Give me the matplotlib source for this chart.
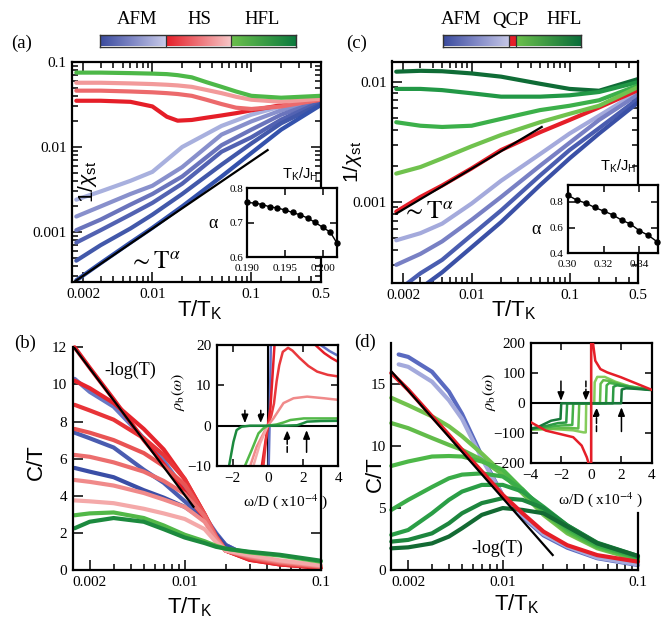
import numpy as np
import matplotlib
matplotlib.use("Agg")
import matplotlib.pyplot as plt
from matplotlib.colors import LinearSegmentedColormap
from matplotlib.ticker import LogLocator, NullFormatter

plt.rcParams['font.family'] = ['Liberation Serif', 'DejaVu Serif']
plt.rcParams['mathtext.fontset'] = 'custom'
plt.rcParams['mathtext.rm'] = 'Liberation Sans'
plt.rcParams['mathtext.it'] = 'Liberation Sans:italic'
plt.rcParams['mathtext.bf'] = 'Liberation Sans:bold'

nan = np.nan

# ---------------- (a) 1/chi_st, HS side ----------------
a_T = [0.0017, 0.003, 0.006, 0.01, 0.02, 0.05, 0.1, 0.2, 0.5]
a_blue = [
    [0.0024, 0.0030, 0.0040, 0.0051, 0.0100, 0.0177, 0.024, 0.030, 0.038],
    [0.00152, 0.0020, 0.0028, 0.0035, 0.0058, 0.0140, 0.020, 0.027, 0.036],
    [0.00105, 0.0014, 0.0021, 0.0028, 0.0045, 0.0105, 0.016, 0.024, 0.035],
    [0.00075, 0.00105, 0.0016, 0.0022, 0.0037, 0.0088, 0.013, 0.021, 0.034],
    [0.00046, 0.00070, 0.0011, 0.0016, 0.0028, 0.0062, 0.011, 0.019, 0.032],
    [0.00027, 0.00043, 0.00075, 0.00112, 0.0020, 0.0045, 0.0085, 0.016, 0.031],
]
a_T_top = [0.0017, 0.003, 0.006, 0.01, 0.014, 0.018, 0.025, 0.035, 0.05, 0.07, 0.1, 0.2, 0.5]
a_top = [
    [0.035, 0.035, 0.034, 0.030, 0.0227, 0.0204, 0.0208, 0.0221, 0.0235, 0.025, 0.027, 0.031, 0.036],
    [0.046, 0.046, 0.045, 0.044, 0.043, 0.042, 0.040, 0.036, 0.032, 0.029, 0.028, 0.030, 0.036],
    [0.057, 0.057, 0.056, 0.055, 0.054, 0.053, 0.051, 0.047, 0.043, 0.039, 0.036, 0.034, 0.037],
    [0.075, 0.075, 0.074, 0.073, 0.072, 0.070, 0.066, 0.058, 0.051, 0.045, 0.040, 0.038, 0.040],
]
a_fit_T = [0.00163, 0.146]
a_fit_v = [0.00026, 0.0092]
a_ratio = [0.190, 0.191, 0.192, 0.193, 0.194, 0.195, 0.196, 0.197, 0.198, 0.199, 0.200, 0.201, 0.2019]
a_alpha = [0.759, 0.757, 0.753, 0.746, 0.743, 0.737, 0.730, 0.723, 0.714, 0.701, 0.687, 0.673, 0.641]

# ---------------- (c) 1/chi_st, QCP side ----------------
c_T = [0.0017, 0.003, 0.005, 0.01, 0.02, 0.05, 0.1, 0.2, 0.5]
c_green = [
    [0.0121, 0.0123, 0.0122, 0.0117, 0.0110, 0.0096, 0.0087, 0.0084, 0.0105],
    [0.0087, 0.0087, 0.0085, 0.0080, 0.0075, 0.0075, 0.0077, 0.0082, 0.0099],
    [0.0046, 0.0043, 0.0042, 0.0043, 0.0049, 0.0058, 0.0063, 0.0070, 0.0093],
    [0.00172, 0.00195, 0.0023, 0.0029, 0.0036, 0.0046, 0.0054, 0.0063, 0.0090],
]
c_red = [0.00083, 0.0011, 0.00137, 0.0019, 0.0027, 0.0038, 0.0048, 0.0061, 0.0085]
c_blue_T = [
    c_T,
    c_T,
    [0.0022, 0.003, 0.005, 0.01, 0.02, 0.05, 0.1, 0.2, 0.5],
    [0.0035, 0.005, 0.01, 0.02, 0.05, 0.1, 0.2, 0.5],
]
c_blue = [
    [0.00048, 0.00055, 0.00066, 0.00097, 0.0015, 0.0025, 0.0037, 0.0052, 0.0082],
    [0.00030, 0.00037, 0.00047, 0.00071, 0.0011, 0.0020, 0.0031, 0.0048, 0.0078],
    [0.00021, 0.000255, 0.00033, 0.00053, 0.00085, 0.00166, 0.0027, 0.0041, 0.0072],
    [0.00021, 0.00026, 0.00042, 0.00068, 0.00138, 0.0023, 0.0037, 0.0067],
]
c_fit_T = [0.0017, 0.052]
c_fit_v = [0.00080, 0.0042]
c_ratio = [0.300, 0.305, 0.310, 0.315, 0.320, 0.325, 0.330, 0.335, 0.340, 0.345, 0.350]
c_alpha = [0.852, 0.813, 0.790, 0.756, 0.728, 0.699, 0.658, 0.627, 0.575, 0.539, 0.488]

# ---------------- (b) C/T, HS side ----------------
b_T = [0.00155, 0.002, 0.003, 0.005, 0.007, 0.01, 0.014, 0.017, 0.02, 0.03, 0.05, 0.1]
b_blue = [
    [10.3, 9.6, 8.8, 7.1, 5.9, 4.3, 2.9, 2.0, 1.35, 0.7, 0.4, 0.17],
    [7.4, 7.1, 6.6, 5.4, 4.7, 3.7, 2.8, 1.95, 1.35, 0.7, 0.4, 0.17],
    [5.5, 5.3, 5.0, 4.3, 3.9, 3.4, 2.7, 1.9, 1.3, 0.7, 0.4, 0.17],
]
b_red = [
    [12.0, 10.9, 9.2, 7.0, 5.7, 4.2, 2.8, 1.7, 1.05, 0.55, 0.3, 0.12],
    [10.2, 9.8, 9.0, 7.6, 6.5, 4.9, 3.0, 1.8, 1.05, 0.55, 0.3, 0.12],
    [8.9, 8.6, 8.1, 7.1, 6.2, 4.9, 3.0, 1.8, 1.05, 0.6, 0.33, 0.14],
    [7.6, 7.4, 7.0, 6.3, 5.6, 4.6, 3.0, 1.8, 1.05, 0.65, 0.37, 0.16],
    [6.2, 6.1, 5.8, 5.3, 4.8, 4.1, 2.9, 1.75, 1.05, 0.7, 0.42, 0.19],
    [4.85, 4.75, 4.55, 4.15, 3.8, 3.4, 2.6, 1.65, 1.05, 0.75, 0.47, 0.22],
    [3.75, 3.7, 3.6, 3.3, 3.05, 2.75, 2.2, 1.5, 1.05, 0.8, 0.52, 0.26],
]
b_green = [
    [2.95, 3.05, 3.1, 2.8, 2.4, 1.9, 1.55, 1.3, 1.15, 0.95, 0.78, 0.45],
    [2.25, 2.6, 2.8, 2.6, 2.2, 1.75, 1.45, 1.25, 1.15, 0.98, 0.82, 0.5],
]
b_fit_T = [0.00153, 0.0116]
b_fit_v = [12.0, 3.41]

# inset (b): rho_b(omega)
bi_x = [
    [0.05, 0.1, 0.17, nan, 3.0, 3.5, 4.0],
    [-0.34, -0.15, 0, 0.15, 0.38, nan, 2.7, 3.2, 3.6, 4.0],
    [-0.25, -0.1, 0, 0.2, 0.35, 0.5, 0.65, 0.85, 1.15, 1.4, 1.8, 2.3, 2.8, 3.4, 4.0],
    [-1.0, -0.63, -0.15, 0, 0.32, 0.89, 1.46, 2.23, 3.18, 4.0],
    [-0.82, -0.44, 0],
    [-1.3, -0.91, -0.53, -0.25, 0, 0.5, 0.9, 1.28, 2.04, 3.0, 4.0],
    [-2.2, -1.95, -1.77, -1.49, -1.0, 0, 1.0, 1.66, 2.0, 2.23, 3.0, 4.0],
]
bi_y = [
    [-10, 0, 20, nan, 20, 18.5, 17.3],
    [-10, -4.4, 0, 4.5, 20, nan, 20, 18.0, 16.8, 15.8],
    [-10, -3.5, 0, 2.5, 5.5, 11, 15, 18.3, 19.3, 18.6, 16.8, 14.8, 13.4, 12.6, 12.2],
    [-10, -5.2, -1.1, 0, 1.8, 5.6, 6.8, 7.2, 6.8, 6.4],
    [-10, -4.4, 0],
    [-10, -6, -1.9, -0.66, 0, 0.3, 0.8, 1.4, 1.8, 1.8, 1.8],
    [-10, -4, -1.1, -0.25, 0, 0, 0, 0.1, 0.6, 1.0, 1.15, 1.2],
]
bi_arrow_x = [-1.3, -0.4, 1.1, 2.2]
bi_arrow_from = [3.8, 3.8, -6.6, -6.6]
bi_arrow_to = [0.6, 0.6, -1.1, -1.1]

# ---------------- (d) C/T, QCP side ----------------
d_T = [0.0015, 0.002, 0.003, 0.004, 0.005, 0.007, 0.01, 0.014, 0.02, 0.03, 0.05, 0.1]
d_T_blue = [0.0017, 0.002, 0.003, 0.004, 0.005, 0.007, 0.01, 0.014, 0.02, 0.03, 0.05, 0.1]
d_blue = [
    [17.4, 17.2, 16.0, 14.4, 12.6, 9.2, 6.0, 4.3, 2.8, 1.8, 0.95, 0.4],
    [16.6, 16.4, 15.2, 13.7, 12.2, 9.0, 6.0, 4.4, 2.9, 1.9, 1.0, 0.45],
]
d_red = [15.9, 14.55, 12.4, 10.9, 9.7, 7.95, 6.06, 4.58, 3.1, 2.0, 1.2, 0.67]
d_green = [
    [13.9, 13.3, 12.4, 11.6, 10.8, 9.4, 7.8, 6.2, 4.45, 2.96, 1.75, 0.8],
    [11.86, 11.45, 10.65, 10.1, 9.7, 8.9, 7.7, 6.2, 4.6, 3.1, 1.83, 0.86],
    [8.4, 8.76, 9.16, 9.2, 9.16, 8.76, 8.1, 6.5, 4.7, 3.2, 1.9, 0.95],
    [4.85, 5.66, 6.7, 7.4, 7.7, 7.8, 7.55, 6.5, 4.85, 3.37, 2.0, 1.0],
    [2.83, 3.23, 4.58, 5.66, 6.33, 6.87, 6.87, 6.33, 5.1, 3.6, 2.15, 1.07],
    [2.29, 2.43, 2.96, 3.77, 4.58, 5.4, 5.8, 5.66, 5.0, 3.6, 2.2, 1.13],
    [1.75, 1.83, 2.15, 2.7, 3.37, 4.45, 5.0, 4.85, 4.58, 3.5, 2.15, 1.13],
]
d_fit_T = [0.0015, 0.0234]
d_fit_v = [16.04, 1.21]

# inset (d)
di_red_x = [-4.0, -3.0, -2.09, -1.19, -0.63, -0.29, -0.16, nan, 0, 0, nan,
            0.12, 0.27, 0.61, 1.06, 1.96, 3.08, 4.0]
di_red_y = [-63, -91, -102, -113, -141, -180, -202, nan, -200, 200, nan,
            200, 142, 114, 103, 87, 64, 45]
di_green_x = [
    [-4, -2.5, -1.2, -0.5, -0.36, -0.33, 0.2, 0.23, 0.4, 0.9, 1.6, 2.5, 4],
    [-4, -2.5, -1.5, -0.85, -0.79, 0.58, 0.62, 0.8, 1.3, 2.0, 3, 4],
    [-4, -3, -2, -1.25, -1.19, 0.98, 1.02, 1.2, 1.8, 2.6, 4],
    [-4, -3, -2.2, -1.65, -1.59, 1.43, 1.47, 1.7, 2.3, 3, 4],
    [-4, -3.55, -2.65, -2.03, -1.98, 1.98, 2.02, 2.3, 3, 4],
]
di_green_y = [
    [-88, -86, -90, -97, -97, 0, 0, 70, 88, 88, 72, 57, 45],
    [-86, -84, -82, -84, 0, 0, 65, 77, 74, 62, 52, 45],
    [-85, -80, -74, -72, 0, 0, 60, 68, 63, 54, 45],
    [-84, -76, -66, -64, 0, 0, 55, 60, 56, 50, 45],
    [-86, -80, -58, -52, 0, 0, 46, 50, 48, 44],
]
di_arrow_x = [-2.0, -0.35, 0.35, 2.0]
di_arrow_from = [74, 74, -94, -94]
di_arrow_to = [8, 8, -13, -13]

# ---------------- colours ----------------
a_blue_colors = ['#a8b0de', '#8890cc', '#6a74bc', '#5262b2', '#4258aa', '#3452ac']
a_top_colors = ['#e51e28', '#ec6a6c', '#f29a9a', '#4db848']
c_green_colors = ['#0f6c36', '#229846', '#3cb04a', '#70c24e']
c_blue_colors = ['#a4aadc', '#7880c4', '#4a5db0', '#3a50a6']
b_blue_colors = ['#6878c4', '#4a5cb0', '#3a4ea6']
b_red_colors = ['#e51e28', '#e6252d', '#e83438', '#e95454', '#ec6e6e', '#f08a8a', '#f4a9a9']
b_green_colors = ['#52b848', '#1c8a3e']
bi_colors = ['#6070c4', '#e51e28', '#e9383c', '#f08a8a', '#f4a9a9', '#52b848', '#1c8a3e']
d_blue_colors = ['#5a6ac0', '#a4aadc']
d_green_colors = ['#72c24e', '#62bc4a', '#4db848', '#3aac48', '#2a9e46', '#1d863e', '#136a33']
di_green_colors = ['#86cc5c', '#62bc4a', '#44b048', '#2c9a44', '#17783a']

# ---------------- figure ----------------
W, H = 668.0, 629.0
fig = plt.figure(figsize=(6.68, 6.29), dpi=100)


def box(l, r, t, b):
    return [l / W, 1 - b / H, (r - l) / W, (b - t) / H]


def label(x, y, s, **kw):
    fig.text(x / W, 1 - y / H, s, **kw)


def style(ax, size=11, major=7, minor=4, top=True, right=True):
    ax.tick_params(which='both', direction='in', top=top, right=right,
                   labelsize=size, width=1.1, pad=4)
    ax.tick_params(which='major', length=major)
    ax.tick_params(which='minor', length=minor)
    for s in ax.spines.values():
        s.set_linewidth(1.6)


def log_x(ax, ticks, labels):
    ax.set_xscale('log')
    ax.set_xticks(ticks, labels)
    ax.xaxis.set_minor_locator(LogLocator(base=10, subs=np.arange(2, 10), numticks=30))
    ax.xaxis.set_minor_formatter(NullFormatter())


def log_y(ax, ticks, labels):
    ax.set_yscale('log')
    ax.set_yticks(ticks, labels)
    ax.yaxis.set_minor_locator(LogLocator(base=10, subs=np.arange(2, 10), numticks=30))
    ax.yaxis.set_minor_formatter(NullFormatter())


def curve(ax, x, y, col, lw=3.0, clip=True):
    ax.plot(x, y, color=col, lw=lw, solid_capstyle='round',
            solid_joinstyle='round', clip_on=clip)


def colorbar(l, r, segs):
    cax = fig.add_axes(box(l, r, 35, 46.5))
    grad = np.linspace(0, 1, 200)[None, :]
    total = segs[-1][1]
    for x0, x1, cols in segs:
        cmap = LinearSegmentedColormap.from_list('c', cols)
        cax.imshow(grad, cmap=cmap, extent=[x0, x1, 0, 1], aspect='auto')
        if x0 > 0:
            cax.axvline(x0, color='#333333', lw=0.9)
    cax.set_xlim(0, total)
    cax.set_ylim(0, 1)
    cax.set_xticks([])
    cax.set_yticks([])
    for s in cax.spines.values():
        s.set_linewidth(1.0)
        s.set_color('#333333')


def small_inset(ax, xpad, ypad):
    style(ax, size=8, major=5)
    ax.tick_params(axis='x', pad=xpad)
    ax.tick_params(axis='y', pad=ypad)


# ===== panel (a) =====
ax_a = fig.add_axes(box(72.3, 320.5, 62, 282))
for vals, col in zip(a_blue, a_blue_colors):
    curve(ax_a, a_T, vals, col)
for vals, col in zip(a_top, a_top_colors):
    curve(ax_a, a_T_top, vals, col)
ax_a.plot(a_fit_T, a_fit_v, color='k', lw=1.6)
log_x(ax_a, [0.002, 0.01, 0.1, 0.5], ['0.002', '0.01', '0.1', '0.5'])
log_y(ax_a, [0.001, 0.01, 0.1], ['0.001', '0.01', '0.1'])
ax_a.set_xlim(0.00155, 0.5)
ax_a.set_ylim(0.000258, 0.1)
style(ax_a)
ax_a.text(0.063, 0.455, r'1/$\chi_{\mathrm{st}}$', rotation=90, transform=ax_a.transAxes,
          ha='center', va='center', fontfamily='Liberation Sans', fontsize=15)
label(155, 262, r'$\sim\mathrm{T}^{\alpha}$', fontsize=18, ha='center', va='center',
      math_fontfamily='stix')

ia = fig.add_axes(box(247.3, 337, 188.3, 257.3), zorder=5)
ia.plot(a_ratio, a_alpha, color='k', lw=1.0, marker='o', ms=3.6, clip_on=False)
ia.set_xlim(0.190, 0.2019)
ia.set_ylim(0.6, 0.8)
ia.set_xticks([0.190, 0.195, 0.200], ['0.190', '0.195', '0.200'])
ia.set_yticks([0.6, 0.7, 0.8], ['0.6', '0.7', '0.8'])
small_inset(ia, 4.5, 3)
label(213, 224, 'α', fontsize=13, ha='center', va='center')
label(318, 174, r'T$_{\mathrm{K}}$/J$_{\mathrm{H}}$', fontsize=10.5, ha='right', va='center',
      fontfamily='Liberation Sans')

# ===== panel (c) =====
ax_c = fig.add_axes(box(392.3, 638, 61.5, 283))
for tt, vals, col in zip(c_blue_T, c_blue, c_blue_colors):
    curve(ax_c, tt, vals, col)
curve(ax_c, c_T, c_red, '#e51e28')
for vals, col in zip(c_green, c_green_colors):
    curve(ax_c, c_T, vals, col)
ax_c.plot(c_fit_T, c_fit_v, color='k', lw=1.6)
log_x(ax_c, [0.002, 0.01, 0.1, 0.5], ['0.002', '0.01', '0.1', '0.5'])
log_y(ax_c, [0.001, 0.01], ['0.001', '0.01'])
ax_c.set_xlim(0.00155, 0.5)
ax_c.set_ylim(0.000212, 0.0147)
style(ax_c)
label(353, 162, r'1/$\chi_{\mathrm{st}}$', rotation=90, ha='center', va='center',
      fontfamily='Liberation Sans', fontsize=15)
label(428, 212, r'$\sim\mathrm{T}^{\alpha}$', fontsize=18, ha='center', va='center',
      math_fontfamily='stix')

ic = fig.add_axes(box(567.7, 658.3, 185, 253.3), zorder=5)
ic.plot(c_ratio, c_alpha, color='k', lw=1.0, marker='o', ms=3.6, clip_on=False)
ic.set_xlim(0.30, 0.3505)
ic.set_ylim(0.4, 0.93)
ic.set_xticks([0.30, 0.32, 0.34], ['0.30', '0.32', '0.34'])
ic.set_yticks([0.4, 0.6, 0.8], ['0.4', '0.6', '0.8'])
small_inset(ic, 5, 3)
label(536, 229, 'α', fontsize=13, ha='center', va='center')
label(636, 166, r'T$_{\mathrm{K}}$/J$_{\mathrm{H}}$', fontsize=10.5, ha='right', va='center',
      fontfamily='Liberation Sans')

# ===== panel (b) =====
ax_b = fig.add_axes(box(72.7, 320.7, 347.3, 570))
for vals, col in zip(b_blue, b_blue_colors):
    curve(ax_b, b_T, vals, col, clip=False)
for vals, col in zip(b_red, b_red_colors):
    curve(ax_b, b_T, vals, col, clip=False)
for vals, col in zip(b_green, b_green_colors):
    curve(ax_b, b_T, vals, col, clip=False)
ax_b.plot(b_fit_T, b_fit_v, color='k', lw=1.6)
log_x(ax_b, [0.002, 0.01, 0.1], ['0.002', '0.01', '0.1'])
ax_b.set_xlim(0.0015, 0.1)
ax_b.set_ylim(0, 12)
ax_b.set_yticks(range(0, 13, 2))
style(ax_b, top=False)
ax_b.spines['top'].set_visible(False)
ax_b.spines['right'].set_bounds(0, 5.5)
for t, v in zip(ax_b.yaxis.get_major_ticks(), ax_b.get_yticks()):
    t.tick2line.set_visible(v <= 2)
label(130, 370, '-log(T)', fontsize=13, ha='center', va='center')

ib = fig.add_axes(box(216.7, 338.3, 345, 466), zorder=5)
ib.axhline(0, color='k', lw=1.5, zorder=1)
ib.axvline(0, color='k', lw=1.5, zorder=1)
for xs, ys, col in zip(bi_x, bi_y, bi_colors):
    ib.plot(xs, ys, color=col, lw=1.8, zorder=2)
for x, y0, y1, ls in zip(bi_arrow_x, bi_arrow_from, bi_arrow_to,
                         ['-', '--', '--', '-']):
    ib.annotate('', xy=(x, y1), xytext=(x, y0),
                arrowprops=dict(arrowstyle='-|>,head_length=0.5,head_width=0.2',
                                color='k', lw=1.1, ls=ls, shrinkA=0, shrinkB=0))
ib.set_xlim(-2.9, 4)
ib.set_ylim(-10, 20)
ib.set_xticks([-2, 0, 2, 4])
ib.set_yticks([-10, 0, 10, 20])
style(ib, size=11, major=5)
label(178, 392, r'$\rho_{\mathrm{b}}(\omega)$', rotation=90, fontsize=11.5, ha='center',
      va='center', math_fontfamily='stix')
label(285, 502, r'ω/D ( x10$^{-4}$ )', fontsize=11, ha='center', va='center',
      math_fontfamily='stix')

# ===== panel (d) =====
ax_d = fig.add_axes(box(391.3, 638, 343.3, 570))
for vals, col in zip(d_blue, d_blue_colors):
    curve(ax_d, d_T_blue, vals, col, clip=False)
for vals, col in zip(d_green, d_green_colors):
    curve(ax_d, d_T, vals, col, clip=False)
curve(ax_d, d_T, d_red, '#e51e28', clip=False)
ax_d.plot(d_fit_T, d_fit_v, color='k', lw=1.6)
log_x(ax_d, [0.002, 0.01, 0.1], ['0.002', '0.01', '0.1'])
ax_d.set_xlim(0.0015, 0.1)
ax_d.set_ylim(0, 18.3)
ax_d.set_yticks([0, 5, 10, 15])
style(ax_d, top=False)
ax_d.spines['top'].set_visible(False)
ax_d.spines['right'].set_bounds(0, 4.6)
for t, v in zip(ax_d.yaxis.get_major_ticks(), ax_d.get_yticks()):
    t.tick2line.set_visible(v <= 0)
label(497, 548, '-log(T)', fontsize=13, ha='center', va='center')

idd = fig.add_axes(box(530.7, 651.7, 343.3, 463.3), zorder=5)
idd.axhline(0, color='k', lw=1.5, zorder=1)
idd.axvline(0, color='k', lw=1.5, zorder=1)
for xs, ys, col in zip(di_green_x, di_green_y, di_green_colors):
    idd.plot(xs, ys, color=col, lw=1.8, zorder=2)
idd.plot(di_red_x, di_red_y, color='#e51e28', lw=1.8, zorder=3)
for x, y0, y1, ls in zip(di_arrow_x, di_arrow_from, di_arrow_to,
                         ['-', '--', '--', '-']):
    idd.annotate('', xy=(x, y1), xytext=(x, y0),
                 arrowprops=dict(arrowstyle='-|>,head_length=0.5,head_width=0.2',
                                 color='k', lw=1.1, ls=ls, shrinkA=0, shrinkB=0))
idd.set_xlim(-4, 4)
idd.set_ylim(-200, 200)
idd.set_xticks([-4, -2, 0, 2, 4])
idd.set_yticks([-200, -100, 0, 100, 200])
style(idd, size=11, major=5)
label(489, 392, r'$\rho_{\mathrm{b}}(\omega)$', rotation=90, fontsize=11.5, ha='center',
      va='center', math_fontfamily='stix')
label(600, 500, r'ω/D ( x10$^{-4}$ )', fontsize=11, ha='center', va='center',
      math_fontfamily='stix')

# ===== axis labels and panel tags =====
for x, y in [(200, 310), (514, 310), (190, 607), (517, 604)]:
    label(x, y, r'T/T$_{\mathrm{K}}$', fontsize=16, ha='center', va='center',
          fontfamily='Liberation Sans')
label(36, 462, 'C/T', rotation=90, fontsize=16, ha='center', va='center',
      fontfamily='Liberation Sans')
label(375, 474, 'C/T', rotation=90, fontsize=16, ha='center', va='center',
      fontfamily='Liberation Sans')
for x, y, s in [(22, 43, '(a)'), (357, 43, '(c)'), (25, 343, '(b)'), (365, 342, '(d)')]:
    label(x, y, s, fontsize=13.5, ha='center', va='center')

# ===== colour bars =====
colorbar(100, 296, [(0, 65.7, ['#3a4b9e', '#8088c6', '#c8cae8']),
                    (65.7, 130.7, ['#e61e28', '#f6c6c6']),
                    (130.7, 196, ['#6cc04c', '#0b7a3e'])])
colorbar(443.3, 580.7, [(0, 65.7, ['#3a4b9e', '#8088c6', '#c4c6e6']),
                        (65.7, 72.4, ['#e61e28', '#e61e28']),
                        (72.4, 137.4, ['#6cc04c', '#0b6e3a'])])
for x, s in [(137, 'AFM'), (199, 'HS'), (262, 'HFL'),
             (461, 'AFM'), (511, 'QCP'), (564, 'HFL')]:
    label(x, 20, s, fontsize=13.5, ha='center', va='center')

fig.savefig('out.png', dpi=100)
